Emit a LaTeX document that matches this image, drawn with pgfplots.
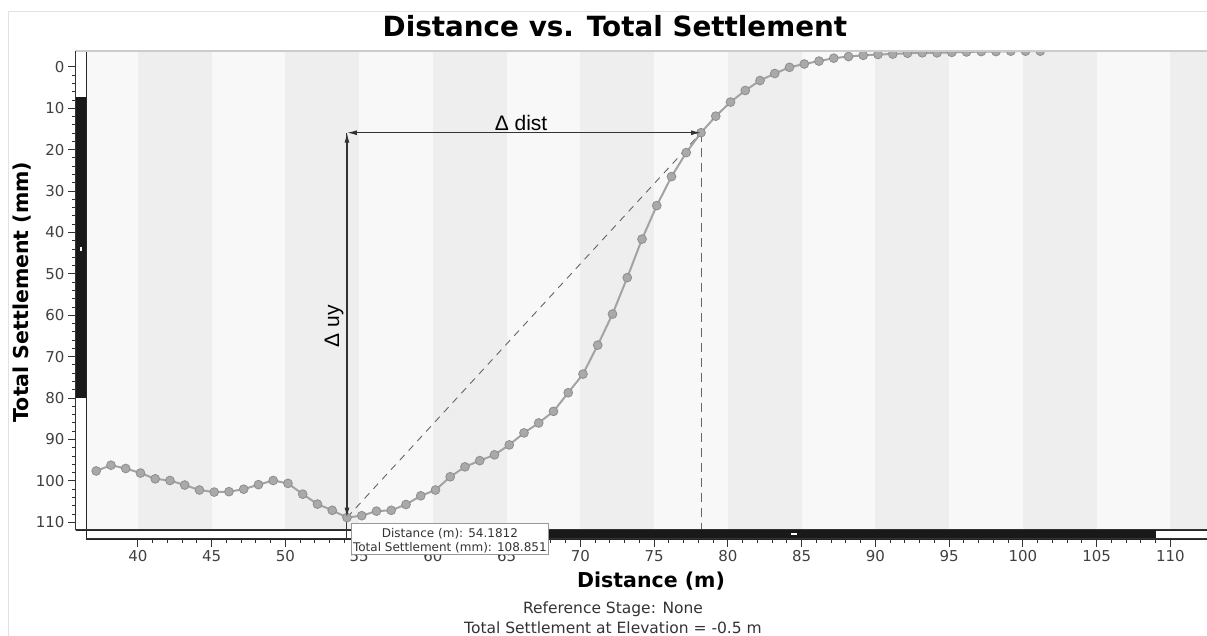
\documentclass[border=0pt]{standalone}
\usepackage{fontspec}
\setmainfont{DejaVu Sans}
\newfontfamily\arialfont{Liberation Sans}
\usepackage{pgfplots}
\pgfplotsset{compat=1.18}
\usetikzlibrary{arrows.meta}

\definecolor{bandlight}{HTML}{F8F8F8}
\definecolor{banddark}{HTML}{EEEEEE}
\definecolor{ptfill}{HTML}{A9A9A9}
\definecolor{ptdraw}{HTML}{8E8E8E}
\definecolor{linegray}{HTML}{A3A3A3}
\definecolor{ticktext}{HTML}{404040}
\definecolor{panel}{HTML}{E2E2E2}

\pgfplotstableread{
x      y
37.18  97.6
38.18  96.2
39.18  97.0
40.18  98.1
41.18  99.5
42.18  99.9
43.18  101.0
44.18  102.2
45.18  102.7
46.18  102.6
47.18  102.0
48.18  100.9
49.18  99.9
50.18  100.6
51.18  103.2
52.18  105.6
53.18  107.1
54.18  108.85
55.18  108.4
56.18  107.3
57.18  107.1
58.18  105.7
59.18  103.6
60.18  102.2
61.18  99.0
62.18  96.6
63.18  95.1
64.18  93.7
65.18  91.3
66.18  88.4
67.18  86.0
68.18  83.2
69.18  78.7
70.18  74.2
71.18  67.2
72.18  59.7
73.18  50.9
74.18  41.6
75.18  33.5
76.18  26.5
77.18  20.7
78.18  15.9
79.18  11.9
80.18  8.5
81.18  5.7
82.18  3.3
83.18  1.6
84.18  0.1
85.18  -0.7
86.18  -1.4
87.18  -2.1
88.18  -2.5
89.18  -2.8
90.18  -3.0
91.18  -3.1
92.18  -3.3
93.18  -3.4
94.18  -3.4
95.18  -3.5
96.18  -3.6
97.18  -3.7
98.18  -3.7
99.18  -3.8
100.18 -3.8
101.18 -3.8
}\settlement

\newcommand\tickfont{\fontsize{15bp}{18bp}\selectfont}

\begin{document}
\begin{tikzpicture}[x=1bp,y=1bp]
\path[use as bounding box] (-76,-97) rectangle (1131,539);

\begin{axis}[
  width=1131bp, height=488bp, scale only axis,
  xmin=35.81, xmax=112.49,
  ymin=-3.84, ymax=114.03, y dir=reverse,
  axis line style={draw=none},
  xtick={40,45,...,110}, ytick={0,10,...,110},
  minor tick num=4,
  ytick pos=left, xtick pos=left,
  xticklabel pos=left,
  tick align=outside,
  major tick length=8bp, minor tick length=4bp,
  tick style={color=black!80, line width=1bp},
  /pgf/number format/assume math mode=true,
  ticklabel style={font=\tickfont, text=ticktext},
  clip marker paths=true,
]
% background bands
\fill[bandlight] (36.49,-3.84) rectangle (112.49,111.86);
\fill[banddark] (40,-3.84) rectangle (45,111.86);
\fill[banddark] (50,-3.84) rectangle (55,111.86);
\fill[banddark] (60,-3.84) rectangle (65,111.86);
\fill[banddark] (70,-3.84) rectangle (75,111.86);
\fill[banddark] (80,-3.84) rectangle (85,111.86);
\fill[banddark] (90,-3.84) rectangle (95,111.86);
\fill[banddark] (100,-3.84) rectangle (105,111.86);
\fill[banddark] (110,-3.84) rectangle (112.49,111.86);

% scroll bars
\filldraw[fill=white, draw=black!85, line width=1bp] (35.81,-3.84) rectangle (36.49,111.86);
\fill[black!90] (35.81,7.2) rectangle (36.49,80.05);
\fill[white] (36.08,43.4) rectangle (36.22,44.4);
\filldraw[fill=white, draw=black!85, line width=1bp] (36.49,111.86) rectangle (112.49,114.03);
\fill[black!90] (67.88,111.86) rectangle (109.02,114.03);
\fill[white] (84.3,112.7) rectangle (84.7,113.1);

% guide lines
\draw[black!80, line width=1bp] (54.18,15.9) -- (54.18,114.03);
\draw[black!60, line width=0.9bp, dash pattern=on 7bp off 6bp] (54.18,108.85) -- (78.18,15.9);
\draw[black!60, line width=1bp, dash pattern=on 9bp off 6bp] (78.18,15.9) -- (78.18,111.86);

\addplot[color=linegray, line width=2bp, mark=*, mark size=4.4bp,
  mark options={fill=ptfill, draw=ptdraw, line width=0.8bp}] table {\settlement};

\draw[black!80, line width=1.2bp, {Latex[length=10bp,width=5bp]}-{Latex[length=10bp,width=5bp]}]
  (54.18,15.9) -- (78.18,15.9);
\draw[black!80, line width=1.2bp, {Latex[length=10bp,width=5bp]}-{Latex[length=10bp,width=5bp]}]
  (54.18,15.9) -- (54.18,108.85);
\node[font=\arialfont\fontsize{21bp}{24bp}\selectfont, anchor=base, inner sep=0pt] at (65.98,15.4) {Δ dist};
\node[font=\arialfont\fontsize{21bp}{24bp}\selectfont, rotate=90, inner sep=0pt] at (53.30,62.6) {Δ uy};
\end{axis}

% frame
\draw[black!80, line width=1bp] (0,9) -- (0,488);
\draw[black!80, line width=1bp] (0,9) -- (1131,9);
\draw[black!80, line width=1bp] (10,0) -- (1131,0);
\draw[black!20, line width=1.5bp] (0,488) -- (1131,488);
\draw[panel, line width=1bp] (-67,-97) -- (-67,527) -- (1131,527);

% titles and labels
\node[font=\bfseries\fontsize{27.8bp}{32bp}\selectfont, anchor=base] at (539,502.3) {Distance vs. Total Settlement};
\node[font=\bfseries\fontsize{20.5bp}{24bp}\selectfont, anchor=base] at (575,-49) {Distance (m)};
\node[font=\bfseries\fontsize{20.5bp}{24bp}\selectfont, rotate=90] at (-54,247) {Total Settlement (mm)};
\node[font=\fontsize{15.5bp}{18bp}\selectfont, text=black!80, anchor=base] at (537,-74.3) {Reference Stage: None};
\node[font=\fontsize{15.5bp}{18bp}\selectfont, text=black!80, anchor=base] at (537,-95) {Total Settlement at Elevation = -0.5 m};

% tooltip
\filldraw[fill=white, draw=black!40, line width=1bp] (275.7,-16) rectangle (472,15);
\node[font=\fontsize{12bp}{14bp}\selectfont, text=black!80, anchor=base] at (373.9,1.7) {Distance (m): 54.1812};
\node[font=\fontsize{12bp}{14bp}\selectfont, text=black!80, anchor=base] at (373.9,-12.7) {Total Settlement (mm): 108.851};
\end{tikzpicture}
\end{document}
